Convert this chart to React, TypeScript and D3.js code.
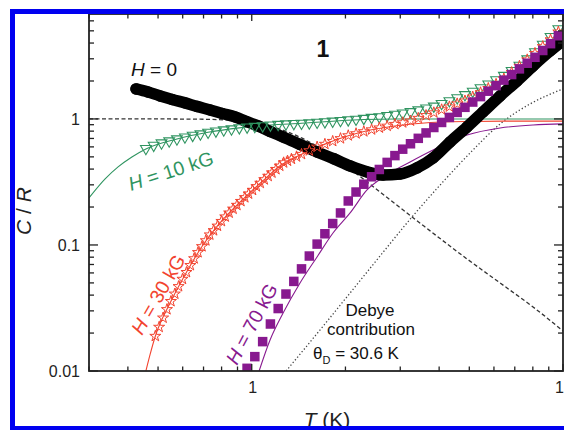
import React from "react";
import * as d3 from "d3";

// T (K) and C/R
const h0T = [0.425, 0.464, 0.508, 0.555, 0.611, 0.667, 0.735, 0.803, 0.884, 0.959, 1.048, 1.145, 1.261, 1.429, 1.621, 1.839, 2.07, 2.347, 2.642, 2.996, 3.398, 3.824, 4.338, 4.918, 5.537, 6.281, 7.12, 8.014, 9.092, 9.788];
const h0C = [1.73, 1.638, 1.522, 1.428, 1.34, 1.257, 1.179, 1.106, 1.037, 0.955, 0.88, 0.796, 0.72, 0.628, 0.547, 0.482, 0.424, 0.38, 0.359, 0.366, 0.409, 0.49, 0.657, 0.864, 1.137, 1.522, 2.002, 2.634, 3.465, 4.01];

const h10T = [0.457, 0.484, 0.513, 0.543, 0.575, 0.61, 0.646, 0.684, 0.724, 0.767, 0.813, 0.861, 0.912, 0.966, 1.023, 1.084, 1.148, 1.216, 1.288, 1.365, 1.445, 1.531, 1.622, 1.718, 1.82, 1.928, 2.042, 2.163, 2.291, 2.427, 2.57, 2.723, 2.884, 3.055, 3.236, 3.428, 3.631, 3.846, 4.074, 4.315, 4.571, 4.842, 5.129, 5.433, 5.754, 6.095, 6.457, 6.839, 7.244, 7.674, 8.128, 8.61, 9.12, 9.661];
const h10C = [0.582, 0.617, 0.644, 0.668, 0.693, 0.718, 0.74, 0.76, 0.783, 0.8, 0.817, 0.832, 0.849, 0.861, 0.871, 0.881, 0.893, 0.904, 0.912, 0.918, 0.923, 0.929, 0.94, 0.948, 0.959, 0.971, 0.982, 0.993, 1.009, 1.026, 1.04, 1.064, 1.086, 1.112, 1.14, 1.178, 1.219, 1.262, 1.324, 1.393, 1.469, 1.556, 1.656, 1.762, 1.888, 2.042, 2.213, 2.415, 2.661, 2.992, 3.404, 3.908, 4.498, 5.188];

const h30T = [0.49, 0.504, 0.519, 0.534, 0.55, 0.566, 0.582, 0.599, 0.617, 0.635, 0.653, 0.672, 0.692, 0.712, 0.733, 0.754, 0.776, 0.799, 0.822, 0.846, 0.871, 0.896, 0.923, 0.95, 0.977, 1.006, 1.035, 1.065, 1.097, 1.129, 1.161, 1.196, 1.23, 1.266, 1.303, 1.341, 1.393, 1.445, 1.531, 1.622, 1.718, 1.82, 1.928, 2.042, 2.163, 2.291, 2.427, 2.57, 2.723, 2.884, 3.055, 3.236, 3.428, 3.631, 3.846, 4.074, 4.315, 4.571, 4.842, 5.129, 5.433, 5.754, 6.095, 6.457, 6.839, 7.244, 7.674, 8.128, 8.61, 9.12, 9.661];
const h30C = [0.0189, 0.0223, 0.0264, 0.0308, 0.0357, 0.0409, 0.0469, 0.0536, 0.0607, 0.0689, 0.078, 0.0873, 0.0973, 0.1084, 0.1205, 0.1303, 0.1416, 0.1542, 0.1675, 0.1799, 0.1932, 0.207, 0.2223, 0.2382, 0.2547, 0.2723, 0.2911, 0.3097, 0.3304, 0.3516, 0.3741, 0.3981, 0.4236, 0.4498, 0.4645, 0.4808, 0.502, 0.5248, 0.561, 0.5998, 0.631, 0.6653, 0.6998, 0.7379, 0.7656, 0.7943, 0.8222, 0.8511, 0.879, 0.9078, 0.9354, 0.966, 1.014, 1.067, 1.122, 1.186, 1.25, 1.321, 1.393, 1.496, 1.618, 1.75, 1.888, 2.08, 2.339, 2.624, 2.951, 3.319, 3.758, 4.256, 4.909];

const h70T = [0.966, 1.023, 1.084, 1.148, 1.216, 1.288, 1.365, 1.445, 1.531, 1.622, 1.718, 1.82, 1.928, 2.042, 2.163, 2.291, 2.427, 2.57, 2.723, 2.884, 3.055, 3.236, 3.428, 3.631, 3.846, 4.074, 4.315, 4.571, 4.842, 5.129, 5.433, 5.754, 6.095, 6.457, 6.839, 7.244, 7.674, 8.128, 8.61, 9.12, 9.661];
const h70C = [0.0105, 0.013, 0.0171, 0.0236, 0.0313, 0.0408, 0.0514, 0.0646, 0.0817, 0.1016, 0.1227, 0.1479, 0.1795, 0.2234, 0.263, 0.3034, 0.3475, 0.3972, 0.4519, 0.5117, 0.5754, 0.6353, 0.7015, 0.7745, 0.8551, 0.9376, 1.028, 1.127, 1.236, 1.361, 1.503, 1.66, 1.837, 2.032, 2.249, 2.495, 2.767, 3.083, 3.491, 3.954, 4.571];

// fitted magnetic curves (thin solid)
const fit10T = [0.3, 0.338, 0.372, 0.412, 0.457, 0.575, 0.724, 0.912, 1.148, 1.445, 1.82, 2.291, 2.884, 4.0, 6.0, 10];
const fit10C = [0.236, 0.334, 0.416, 0.499, 0.578, 0.693, 0.783, 0.849, 0.893, 0.923, 0.959, 0.99, 1.0, 1.0, 1.0, 1.0];
const fit30T = [0.457, 0.471, 0.489, 0.55, 0.617, 0.692, 0.776, 0.871, 0.977, 1.097, 1.23, 1.445, 1.718, 2.042, 2.427, 2.884, 3.428, 4.074, 5.129, 6.457, 10];
const fit30C = [0.01, 0.0134, 0.0186, 0.0357, 0.0607, 0.0973, 0.1416, 0.1932, 0.2547, 0.3304, 0.4236, 0.525, 0.631, 0.735, 0.82, 0.88, 0.92, 0.945, 0.955, 0.96, 0.96];
const fit70T = [1.056, 1.145, 1.261, 1.429, 1.621, 1.824, 2.07, 2.346, 2.682, 3.226, 3.824, 4.918, 6.281, 8.014, 10];
const fit70C = [0.01, 0.0176, 0.0288, 0.0499, 0.0803, 0.1245, 0.1795, 0.2732, 0.3532, 0.456, 0.5675, 0.7464, 0.8483, 0.896, 0.9128];

// zero-field magnetic part (dashed) and Debye lattice part (dotted)
const magT = [0.3, 0.471, 0.682, 0.917, 1.103, 1.328, 1.658, 1.994, 2.347, 3.274, 4.918, 6.281, 8.014, 10];
const magC = [1.0, 1.0, 0.995, 0.964, 0.896, 0.774, 0.589, 0.431, 0.316, 0.167, 0.0774, 0.0499, 0.0322, 0.0208];
const debyeT = [1.289, 1.658, 2.07, 2.584, 3.274, 4.029, 5.142, 6.281, 7.84, 10];
const debyeC = [0.01, 0.0212, 0.0416, 0.0818, 0.167, 0.299, 0.568, 0.913, 1.315, 1.73];

const yLabels = [0.01, 0.1, 1];
const xLabels = [1, 10];

const GREEN = "#2f9460";
const RED = "#f2432f";
const PURPLE = "#88198f";
const FONT = "Liberation Sans, Arial, sans-serif";

const zip = (ts: number[], cs: number[]) => ts.map((t, i) => [t, cs[i]] as [number, number]);

export default function App() {
  const W = 564, H = 430;
  const x = d3.scaleLog().domain([0.3, 10]).range([89, 563]);
  const y = d3.scaleLog().domain([0.01, 6.8]).range([371, 14]);
  const line = d3.line<[number, number]>().x(d => x(d[0])).y(d => y(d[1])).curve(d3.curveMonotoneX);

  const tri = d3.symbol(d3.symbolTriangle, 50)()!;
  const star = d3.symbol(d3.symbolStar, 38)()!;

  const xTicks = x.ticks();
  const yTicks = y.ticks();
  const isMajor = (v: number) => Math.abs(Math.log10(v) - Math.round(Math.log10(v))) < 1e-6;

  return (
    <svg width={W} height={H} style={{ position: "absolute", left: 0, top: 0, background: "#fff" }} fontFamily={FONT}>
      <defs>
        <clipPath id="plot">
          <rect x={89} y={14} width={474} height={357} />
        </clipPath>
      </defs>
      <rect width={W} height={H} fill="#fff" />

      <g clipPath="url(#plot)">
        <path d={line(zip(magT, magC))!} fill="none" stroke="#333" strokeWidth={1.3} strokeDasharray="4,2.5" />
        <path d={line(zip(debyeT, debyeC))!} fill="none" stroke="#444" strokeWidth={1.3} strokeDasharray="1.3,2.2" />
        <path d={line(zip(fit10T, fit10C))!} fill="none" stroke={GREEN} strokeWidth={1.1} />
        <path d={line(zip(fit30T, fit30C))!} fill="none" stroke={RED} strokeWidth={1.1} />
        <path d={line(zip(fit70T, fit70C))!} fill="none" stroke={PURPLE} strokeWidth={1.1} />

        {/* H = 0: dense circles form a solid band */}
        <path d={line(zip(h0T, h0C))!} fill="none" stroke="#000" strokeWidth={11.5} strokeLinecap="round" strokeLinejoin="round" />
        {zip(h0T, h0C).map((d, i) => (
          <circle key={"b" + i} cx={x(d[0])} cy={y(d[1])} r={5.75} fill="#000" />
        ))}

        {zip(h10T, h10C).map((d, i) => (
          <path key={"g" + i} d={tri} transform={`translate(${x(d[0])},${y(d[1])}) rotate(180)`} fill="none" stroke={GREEN} strokeWidth={1.1} />
        ))}
        {zip(h30T, h30C).map((d, i) => (
          <path key={"r" + i} d={star} transform={`translate(${x(d[0])},${y(d[1])})`} fill="none" stroke={RED} strokeWidth={1} />
        ))}
        {zip(h70T, h70C).map((d, i) => (
          <rect key={"p" + i} x={x(d[0]) - 4.75} y={y(d[1]) - 4.75} width={9.5} height={9.5} fill={PURPLE} />
        ))}
      </g>

      {/* axes frame */}
      <rect x={89} y={14} width={474} height={357} fill="none" stroke="#222" strokeWidth={1.8} />
      {yTicks.map((v, i) => {
        const len = isMajor(v) ? 9 : 5;
        return (
          <g key={"yt" + i} stroke="#222" strokeWidth={1.3}>
            <line x1={89} x2={89 + len} y1={y(v)} y2={y(v)} />
            <line x1={563} x2={563 - len} y1={y(v)} y2={y(v)} />
          </g>
        );
      })}
      {xTicks.map((v, i) => {
        const len = isMajor(v) ? 7 : 4.5;
        return (
          <g key={"xt" + i} stroke="#222" strokeWidth={1.3}>
            <line x1={x(v)} x2={x(v)} y1={371} y2={371 - len} />
            <line x1={x(v)} x2={x(v)} y1={14} y2={14 + len} />
          </g>
        );
      })}
      {yLabels.map(v => (
        <text key={"yl" + v} x={80} y={y(v) + 6} textAnchor="end" fontSize={16} fill="#222">{v}</text>
      ))}
      {xLabels.map(v => (
        <text key={"xl" + v} x={x(v) + 1} y={393} textAnchor="middle" fontSize={16} fill="#222">{v}</text>
      ))}

      <text x={327} y={427} textAnchor="middle" fontSize={21} fill="#222">
        <tspan fontStyle="italic">T</tspan> (K)
      </text>
      <text transform="translate(31,211) rotate(-90)" textAnchor="middle" fontSize={21} fill="#222">
        <tspan fontStyle="italic">C</tspan> / <tspan fontStyle="italic">R</tspan>
      </text>

      <text x={323} y={57} textAnchor="middle" fontSize={23} fontWeight="bold" fill="#111">1</text>
      <text x={131} y={76} fontSize={19} fill="#111">
        <tspan fontStyle="italic">H</tspan> = 0
      </text>
      <text transform="translate(131,191) rotate(-18)" fontSize={19.5} fill={GREEN}>
        <tspan fontStyle="italic">H</tspan> = 10 kG
      </text>
      <text transform="translate(142,336) rotate(-60)" fontSize={19.5} fill={RED}>
        <tspan fontStyle="italic">H</tspan> = 30 kG
      </text>
      <text transform="translate(237,366) rotate(-62)" fontSize={19.5} fill={PURPLE}>
        <tspan fontStyle="italic">H</tspan> = 70 kG
      </text>

      <text x={370} y={316} textAnchor="middle" fontSize={17} fill="#111">Debye</text>
      <text x={371} y={335} textAnchor="middle" fontSize={17} fill="#111">contribution</text>
      <text x={313} y={359} fontSize={17} fill="#111">
        θ<tspan fontSize={11} dy={5}>D</tspan>
        <tspan dy={-5}> = 30.6 K</tspan>
      </text>

      {/* blue frame of the figure */}
      <rect x={12.5} y={11.5} width={600} height={417} fill="none" stroke="#0000f0" strokeWidth={5} />
    </svg>
  );
}
